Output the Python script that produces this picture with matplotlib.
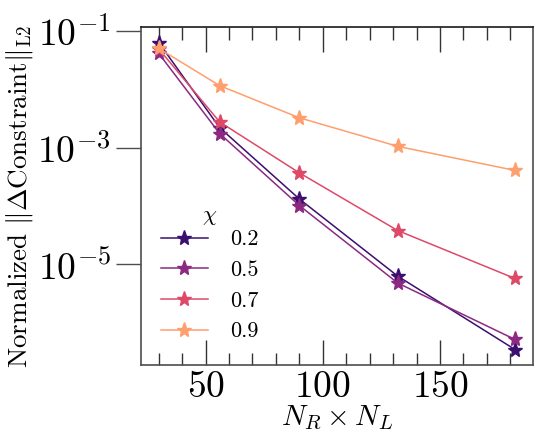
import matplotlib
matplotlib.use("Agg")
import matplotlib.pyplot as plt
import seaborn as sns
from matplotlib.ticker import MultipleLocator, NullLocator

plt.rcParams['font.family'] = 'serif'
plt.rcParams['font.serif'] = ['cmr10', 'DejaVu Serif']
plt.rcParams['mathtext.fontset'] = 'cm'
plt.rcParams['axes.formatter.use_mathtext'] = True

x_vals = [30, 56, 90, 132, 182]
chi_labels = ['0.2', '0.5', '0.7', '0.9']
y_02 = [6.3e-2, 2.19e-3, 1.32e-4, 6.3e-6, 3.5e-7]
y_05 = [4.1e-2, 1.74e-3, 1.02e-4, 4.8e-6, 5.2e-7]
y_07 = [4.9e-2, 2.75e-3, 3.7e-4, 3.8e-5, 5.75e-6]
y_09 = [5.0e-2, 1.15e-2, 3.24e-3, 1.05e-3, 4.07e-4]
series = [y_02, y_05, y_07, y_09]

colors = sns.color_palette("magma", 4)

fig = plt.figure(figsize=(5.42, 4.38), dpi=100)
ax = fig.add_axes([0.260, 0.167, 0.723, 0.771])

for lab, ys, c in zip(chi_labels, series, colors):
    ax.plot(x_vals, ys, marker='*', color=c, lw=1.1, markersize=11, label=lab)

ax.set_yscale('log')
ax.set_yticks([1e-1, 1e-3, 1e-5])
ax.yaxis.set_minor_locator(NullLocator())
ax.xaxis.set_major_locator(MultipleLocator(50))
ax.xaxis.set_minor_locator(MultipleLocator(10))

ax.tick_params(axis='x', which='both', direction='in', top=True, bottom=True, labelsize=27, pad=4)
ax.tick_params(axis='x', which='major', length=18, width=1, color='0.2')
ax.tick_params(axis='x', which='minor', length=9, width=1, color='0.2')
ax.tick_params(axis='y', which='major', direction='out', length=18, width=1, labelsize=27, color='0.3')

for s in ax.spines.values():
    s.set_color('0.3')
    s.set_linewidth(1.2)
ax.spines['top'].set_color('0.1')

ax.set_xlabel(r'$N_R \times N_L$', fontsize=21, labelpad=0)
ax.set_ylabel(r'Normalized $\|\Delta\mathrm{Constraint}\|_{\mathrm{L2}}$', fontsize=19.5, labelpad=2)

leg = ax.legend(title=r'$\chi$', loc='lower left', frameon=False, fontsize=16,
                title_fontsize=16, handlelength=2.1, labelspacing=0.5,
                handletextpad=1.0, bbox_to_anchor=(0.0, 0.01))
leg._legend_box.sep = 2

fig.savefig('out.png', dpi=100)
